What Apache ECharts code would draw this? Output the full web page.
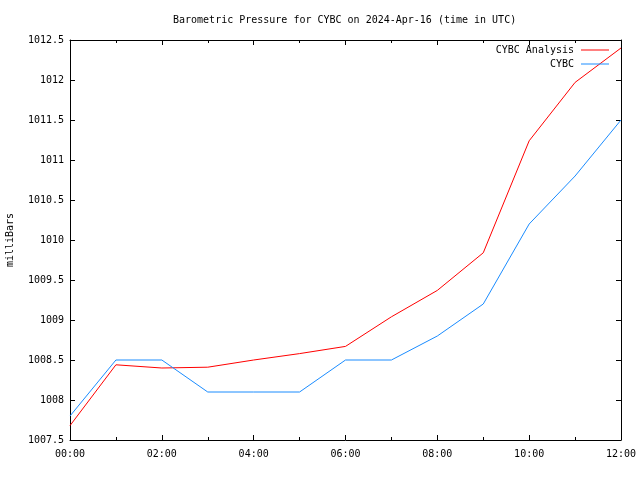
<!DOCTYPE html>
<html><head><meta charset="utf-8">
<script src="https://cdn.jsdelivr.net/npm/echarts@6/dist/echarts.min.js"></script>
<style>html,body{margin:0;padding:0;background:#fff}#c{width:640px;height:480px}</style>
</head><body><div id="c"></div>
<script>
const hours = [0,1,2,3,4,5,6,7,8,9,10,11,12];
const analysis = [1007.68,1008.44,1008.40,1008.41,1008.50,1008.58,1008.67,1009.04,1009.37,1009.84,1011.24,1011.97,1012.40];
const observed = [1007.80,1008.50,1008.50,1008.10,1008.10,1008.10,1008.50,1008.50,1008.80,1009.20,1010.20,1010.80,1011.50];
const xTickLabels = ['00:00','02:00','04:00','06:00','08:00','10:00','12:00'];
const titleText = 'Barometric Pressure for CYBC on 2024-Apr-16 (time in UTC)';
const FONT = '"DejaVu Sans Mono", monospace';
const chart = echarts.init(document.getElementById('c'), null, {renderer:'canvas'});
const tickStyle = {show:true, inside:true, length:5, lineStyle:{color:'#000'}};
const minorStyle = {show:true, splitNumber:2, length:3, lineStyle:{color:'#000'}};
chart.setOption({
  animation:false,
  backgroundColor:'#fff',
  title:{text:titleText, left:168, top:10, textStyle:{fontFamily:FONT, fontSize:10, fontWeight:'normal', color:'#000'}},
  legend:{
    show:true, orient:'vertical', right:26, top:40, left:'auto', bottom:'auto', align:'right',
    icon:'rect', itemWidth:28, itemHeight:1, itemGap:4,
    textStyle:{fontFamily:FONT, fontSize:10, color:'#000', padding:[0,2,0,0]},
    data:['CYBC Analysis','CYBC']
  },
  grid:{left:70, right:19, top:40, bottom:40, containLabel:false, outerBoundsMode:'none'},
  xAxis:[{
    type:'value', min:0, max:12, interval:2,
    axisLine:{show:true, onZero:false, lineStyle:{color:'#000', width:1}},
    axisTick:tickStyle, minorTick:minorStyle,
    axisLabel:{fontFamily:FONT, fontSize:10, color:'#000', margin:9, formatter:v => xTickLabels[v/2]},
    splitLine:{show:false}
  },{
    type:'value', position:'top', min:0, max:12, interval:2,
    axisLine:{show:true, onZero:false, lineStyle:{color:'#000', width:1}},
    axisTick:tickStyle, minorTick:minorStyle, axisLabel:{show:false}, splitLine:{show:false}
  }],
  yAxis:[{
    type:'value', min:1007.5, max:1012.5, interval:0.5,
    name:'milliBars', nameLocation:'middle', nameGap:55, nameRotate:90,
    nameTextStyle:{fontFamily:FONT, fontSize:10, color:'#000'},
    axisLine:{show:true, onZero:false, lineStyle:{color:'#000', width:1}},
    axisTick:tickStyle,
    axisLabel:{fontFamily:FONT, fontSize:10, color:'#000', margin:6, formatter:v => String(Math.round(v*10)/10)},
    splitLine:{show:false}
  },{
    type:'value', position:'right', min:1007.5, max:1012.5, interval:0.5,
    axisLine:{show:true, onZero:false, lineStyle:{color:'#000', width:1}},
    axisTick:tickStyle, axisLabel:{show:false}, splitLine:{show:false}
  }],
  series:[
    {name:'CYBC Analysis', type:'line', showSymbol:false, symbol:'none', itemStyle:{color:'#ff0000'}, lineStyle:{width:1, color:'#ff0000'}, data:hours.map((h,i)=>[h,analysis[i]])},
    {name:'CYBC', type:'line', showSymbol:false, symbol:'none', itemStyle:{color:'#1a8cff'}, lineStyle:{width:1, color:'#1a8cff'}, data:hours.map((h,i)=>[h,observed[i]])}
  ]
});
</script></body></html>
